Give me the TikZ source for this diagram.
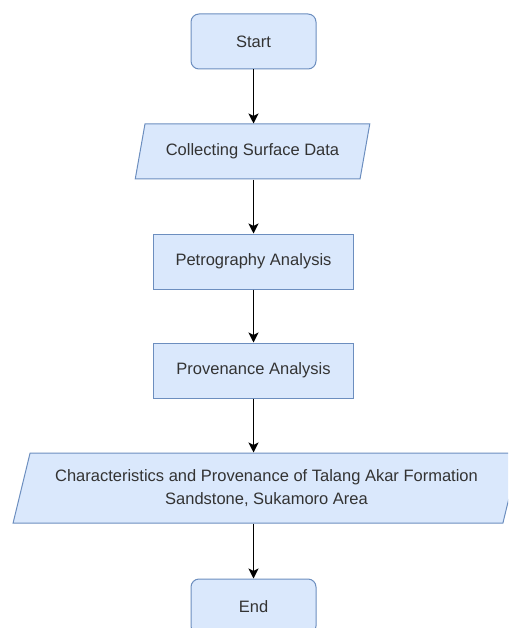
\documentclass[tikz,border=0pt]{standalone}
\usepackage{fontspec}
\setmainfont{Liberation Sans}
\usetikzlibrary{shapes.geometric,arrows.meta}
\definecolor{boxfill}{HTML}{DAE8FC}
\definecolor{boxline}{HTML}{6C8EBF}
\definecolor{txtgray}{HTML}{333333}
\begin{document}
\begin{tikzpicture}[x=1pt,y=-1pt,line cap=butt,line join=miter,>={Stealth[length=10pt,width=10pt,inset=2.5pt]},font=\fontsize{16.5}{23.5}\selectfont]
		\tikzset{box/.style={draw=boxline,fill=boxfill,line width=1pt,text=txtgray,minimum width=200pt,minimum height=55pt,inner sep=0pt},
			term/.style={box,rounded corners=8pt,minimum width=125pt},
			io/.style={box,trapezium,trapezium left angle=63,trapezium right angle=117,trapezium stretches=true},
			flow/.style={->,line width=1.2pt,black}
		}
		\useasboundingbox (0,0) rectangle (508,628);
		\clip (0,0) rectangle (508,628);
		\node[term] (start) at (253.5,41.5) {Start};
		\node[io,minimum width=235pt] (collect) at (252.5,151.5) {Collecting Surface Data};
		\node[box] (petro) at (253.5,261.5) {Petrography Analysis};
		\node[box] (prov) at (253.5,370.5) {Provenance Analysis};
		\node[io,minimum width=509pt,minimum height=70pt,trapezium left angle=68,trapezium right angle=112,align=center] (result) at (266.5,488) {Characteristics and Provenance of Talang Akar Formation\\Sandstone, Sukamoro Area};
		\node[term] (finish) at (253.5,606.5) {End};
		\draw[flow] (start) -- (start |- collect.north);
		\draw[flow] (collect.south -| petro) -- (petro);
		\draw[flow] (petro) -- (prov);
		\draw[flow] (prov) -- (prov |- result.north);
		\draw[flow] (result.south -| finish) -- (finish);
	\end{tikzpicture}
\end{document}
